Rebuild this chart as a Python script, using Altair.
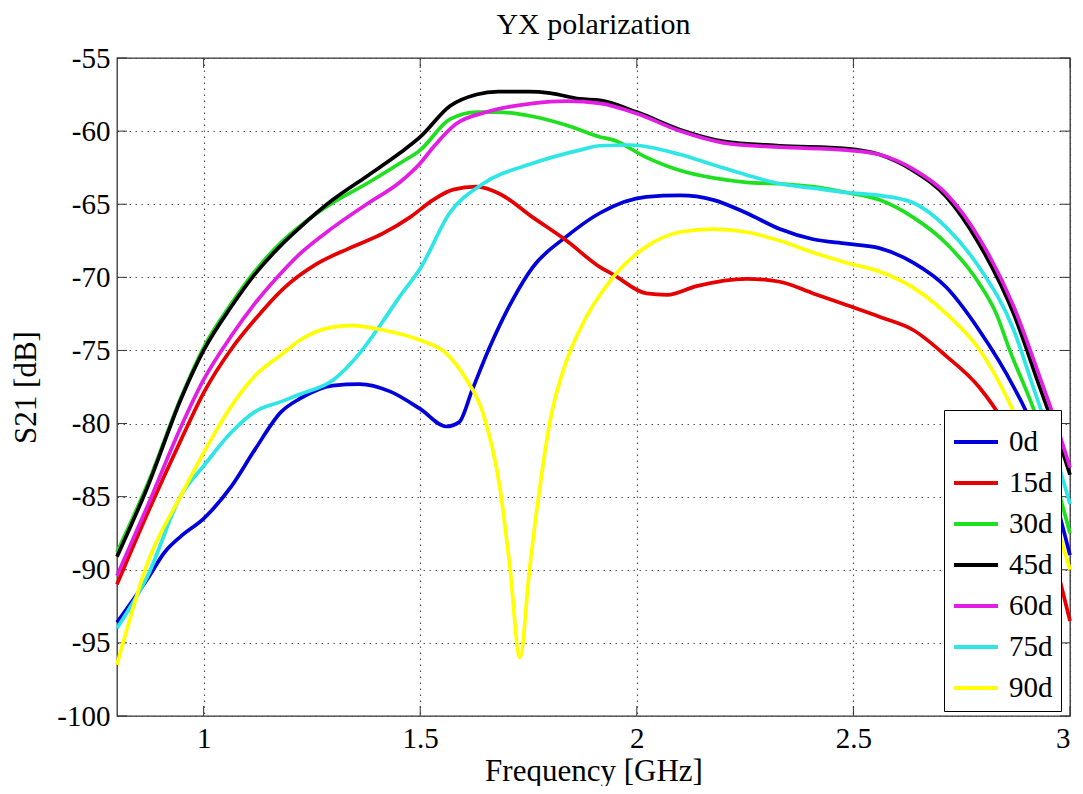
import altair as alt
import pandas as pd

# ---------------- data ----------------
series = ["0d", "15d", "30d", "45d", "60d", "75d", "90d"]
colors = ["#0000dd", "#e60000", "#1fe01f", "#000000", "#e31ee3", "#2ee6e6", "#ffff00"]

f_0d = [0.8, 0.871, 0.91, 0.948, 1.0, 1.064, 1.118, 1.179, 1.222, 1.298, 1.36, 1.43, 1.5, 1.56, 1.59, 1.62,
        1.66, 1.714, 1.76, 1.838, 1.915, 2.022, 2.1, 2.176, 2.253, 2.33, 2.407, 2.484, 2.56, 2.638, 2.715,
        2.79, 2.87, 2.908, 2.95, 3.0]
v_0d = [-93.6, -90.6, -88.8, -87.7, -86.5, -84.3, -81.8, -79.2, -78.3, -77.4, -77.3, -77.8, -79.0, -80.2, -79.9,
        -77.7, -74.8, -71.5, -69.3, -67.2, -65.6, -64.5, -64.4, -64.7, -65.6, -66.7, -67.4, -67.7, -68.0, -69.0,
        -70.7, -73.6, -77.5, -79.8, -83.5, -89.0]

f_15d = [0.8, 0.871, 0.948, 1.0, 1.064, 1.118, 1.183, 1.26, 1.337, 1.414, 1.476, 1.53, 1.576, 1.63, 1.684,
         1.76, 1.838, 1.915, 1.945, 2.022, 2.07, 2.138, 2.253, 2.33, 2.407, 2.484, 2.56, 2.638, 2.715, 2.79,
         2.842, 2.9, 2.95, 3.0]
v_15d = [-91.0, -86.1, -81.1, -77.9, -74.9, -72.9, -70.8, -69.1, -68.0, -67.0, -65.9, -64.7, -64.0, -63.8, -64.3,
         -65.9, -67.5, -69.3, -69.8, -71.1, -71.2, -70.6, -70.1, -70.3, -71.1, -71.9, -72.7, -73.6, -75.4, -77.5,
         -79.7, -83.5, -87.8, -93.5]

f_30d = [0.8, 0.871, 0.948, 1.0, 1.064, 1.118, 1.179, 1.222, 1.298, 1.376, 1.453, 1.5, 1.568, 1.63, 1.68,
         1.76, 1.838, 1.915, 1.945, 2.022, 2.1, 2.176, 2.253, 2.33, 2.407, 2.484, 2.56, 2.638, 2.715, 2.79,
         2.83, 2.861, 2.923, 2.96, 3.0]
v_30d = [-88.8, -84.1, -78.2, -74.8, -71.8, -69.6, -67.6, -66.5, -64.9, -63.6, -62.2, -61.3, -59.2, -58.7, -58.7,
         -59.0, -59.6, -60.4, -60.6, -61.8, -62.7, -63.2, -63.5, -63.6, -63.8, -64.2, -64.7, -65.9, -67.7, -70.4,
         -72.5, -75.0, -79.6, -83.2, -87.5]

f_45d = [0.8, 0.871, 0.948, 1.0, 1.064, 1.118, 1.179, 1.222, 1.298, 1.376, 1.453, 1.5, 1.568, 1.63, 1.68,
         1.75, 1.8, 1.868, 1.915, 2.0, 2.1, 2.2, 2.33, 2.484, 2.56, 2.638, 2.715, 2.79, 2.87, 2.93, 2.97, 3.0]
v_45d = [-89.1, -84.3, -78.3, -75.0, -72.0, -69.8, -67.8, -66.6, -64.7, -63.1, -61.5, -60.4, -58.3, -57.5, -57.3,
         -57.3, -57.4, -57.8, -57.9, -58.7, -59.9, -60.7, -61.0, -61.2, -61.6, -62.7, -64.5, -67.7, -72.5, -77.5,
         -80.8, -83.5]

f_60d = [0.8, 0.871, 0.948, 1.0, 1.064, 1.118, 1.179, 1.222, 1.298, 1.376, 1.453, 1.5, 1.53, 1.583, 1.653,
         1.76, 1.838, 1.915, 2.0, 2.1, 2.2, 2.33, 2.484, 2.56, 2.638, 2.715, 2.79, 2.87, 2.93, 2.97, 3.0]
v_60d = [-90.4, -85.6, -80.2, -77.0, -74.0, -71.8, -69.7, -68.4, -66.6, -65.0, -63.5, -62.2, -61.1, -59.5, -58.7,
         -58.1, -57.95, -58.1, -58.8, -60.0, -60.8, -61.1, -61.3, -61.6, -62.6, -64.3, -67.3, -72.0, -76.8, -80.2,
         -83.0]

f_75d = [0.8, 0.871, 0.948, 1.0, 1.064, 1.118, 1.179, 1.222, 1.3, 1.36, 1.414, 1.453, 1.5, 1.568, 1.645, 1.76,
         1.868, 1.915, 1.984, 2.1, 2.176, 2.253, 2.33, 2.407, 2.484, 2.56, 2.638, 2.715, 2.79, 2.87, 2.915, 2.96,
         3.0]
v_75d = [-94.0, -90.4, -84.9, -82.9, -80.6, -79.2, -78.5, -78.0, -77.0, -75.2, -73.0, -71.3, -69.4, -65.6, -63.6,
         -62.2, -61.3, -61.0, -60.95, -61.6, -62.3, -63.0, -63.6, -63.9, -64.2, -64.4, -64.9, -66.6, -69.3, -73.6,
         -77.5, -81.5, -85.5]

f_90d = [0.8, 0.871, 0.948, 1.0, 1.064, 1.118, 1.179, 1.222, 1.298, 1.345, 1.414, 1.5, 1.56, 1.607, 1.645,
         1.684, 1.707, 1.73, 1.753, 1.776, 1.8, 1.838, 1.868, 1.945, 2.022, 2.1, 2.176, 2.253, 2.33, 2.407,
         2.484, 2.56, 2.638, 2.715, 2.79, 2.87, 2.93, 3.0]
v_90d = [-96.5, -89.5, -84.9, -82.0, -78.8, -76.75, -75.3, -74.3, -73.4, -73.3, -73.6, -74.3, -75.2, -77.0,
         -79.3, -84.4, -89.8, -96.0, -89.8, -84.4, -79.8, -75.7, -73.6, -70.0, -67.9, -66.9, -66.7, -66.9, -67.5,
         -68.3, -69.0, -69.6, -70.7, -72.5, -74.9, -79.2, -83.5, -90.0]

x_ticks = [1.0, 1.5, 2.0, 2.5, 3.0]
y_ticks = [-100, -95, -90, -85, -80, -75, -70, -65, -60, -55]

# ---------------- tables ----------------
freqs = [f_0d, f_15d, f_30d, f_45d, f_60d, f_75d, f_90d]
vals = [v_0d, v_15d, v_30d, v_45d, v_60d, v_75d, v_90d]
rows = []
for name, fs, vs in zip(series, freqs, vals):
    for i, (f, v) in enumerate(zip(fs, vs)):
        rows.append({"f": f, "v": v, "s": name, "i": i})
df = pd.DataFrame(rows)
xt = pd.DataFrame({"f": x_ticks})
yt = pd.DataFrame({"v": y_ticks})

W, H = 953, 658
SERIF = "Liberation Serif"

xscale = alt.Scale(domain=[0.8, 3.0], nice=False, zero=False)
yscale = alt.Scale(domain=[-100, -55], nice=False, zero=False)

xaxis = alt.Axis(values=x_ticks, labelExpr="toString(datum.value)", title="Frequency [GHz]",
                 titleX=476.5, titleY=64, titleBaseline="alphabetic", titleAnchor="middle")
yaxis = alt.Axis(values=y_ticks, labelExpr="toString(datum.value)", title="S21 [dB]",
                 titleX=-82, titleY=329, titleBaseline="alphabetic", titleAngle=-90, titleAlign="center")


def xenc():
    return alt.X("f:Q", scale=xscale, axis=xaxis)


def yenc():
    return alt.Y("v:Q", scale=yscale, axis=yaxis)


lines = alt.Chart(df).mark_line(strokeWidth=3.7, interpolate="monotone").encode(
    x=xenc(),
    y=yenc(),
    color=alt.Color("s:N", scale=alt.Scale(domain=series, range=colors), sort=series,
                    legend=alt.Legend(title=None, orient="none", legendX=827, legendY=352,
                                      fillColor="white", strokeColor="black", padding=8,
                                      titlePadding=0,
                                      symbolType="stroke", symbolStrokeWidth=4, symbolSize=1936,
                                      labelFont=SERIF, labelFontSize=29, labelColor="black",
                                      labelOffset=9, rowPadding=2)),
    order=alt.Order("i:Q"),
)

tick_len = 10
xt_bottom = alt.Chart(xt).mark_rule(color="#333", strokeWidth=1).encode(
    x=xenc(), y=alt.value(H), y2=alt.value(H - tick_len))
xt_top = alt.Chart(xt).mark_rule(color="#333", strokeWidth=1).encode(
    x=xenc(), y=alt.value(0), y2=alt.value(tick_len))
yt_left = alt.Chart(yt).mark_rule(color="#333", strokeWidth=1).encode(
    y=yenc(), x=alt.value(0), x2=alt.value(tick_len))
yt_right = alt.Chart(yt).mark_rule(color="#333", strokeWidth=1).encode(
    y=yenc(), x=alt.value(W), x2=alt.value(W - tick_len))

chart = alt.layer(xt_bottom, xt_top, yt_left, yt_right, lines).properties(
    width=W, height=H,
    title=alt.TitleParams("YX polarization", font=SERIF, fontSize=30, fontWeight="normal",
                          anchor="middle", baseline="alphabetic", offset=10, dy=30, color="black"),
    autosize=alt.AutoSizeParams(type="none"),
    padding={"left": 109, "top": 50, "right": 5, "bottom": 70},
).configure(
    background="white"
).configure_view(
    stroke="#333", strokeWidth=1.3
).configure_axis(
    domain=False, ticks=False, grid=True, gridColor="#444", gridDash=[1.5, 4.5], gridWidth=1.2,
    gridOpacity=0.9, labelFont=SERIF, labelFontSize=29, labelColor="black",
    titleFont=SERIF, titleFontSize=31, titleFontWeight="normal", titleColor="black",
).configure_axisX(
    labelPadding=8
).configure_axisY(
    labelPadding=7
)

chart.save("out.html", embed_options={"renderer": "svg", "actions": False})
